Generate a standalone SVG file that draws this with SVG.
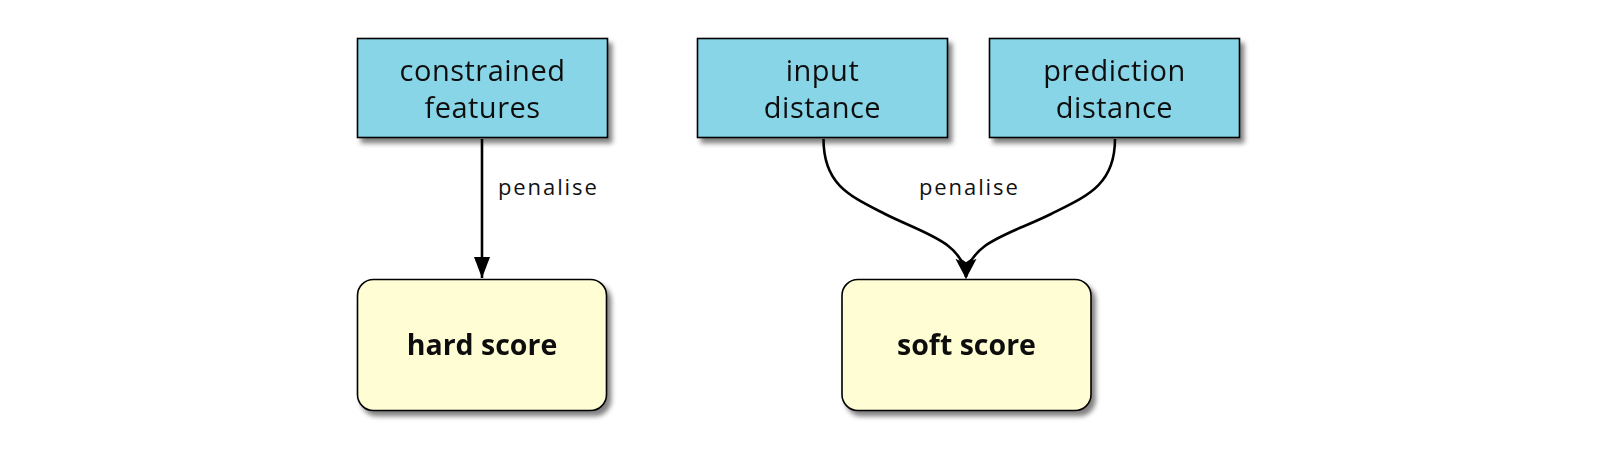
<svg xmlns="http://www.w3.org/2000/svg" width="1604" height="454" viewBox="0 0 1604 454">
<style>
.box{fill:#88d5e8;stroke:#000;stroke-width:1.6}
.score{fill:#fffdd3;stroke:#000;stroke-width:1.6}
.t{font-family:"Open Sans","Noto Sans",sans-serif;font-size:29px;letter-spacing:0.5px;fill:#111;text-anchor:middle}
.b{font-weight:bold;font-size:28.5px;letter-spacing:0}
.lbl{font-family:"Open Sans","Noto Sans",sans-serif;font-size:22px;letter-spacing:1.9px;fill:#111}
.edge{fill:none;stroke:#000;stroke-width:2.6}
</style>
<defs>
<filter id="sh" x="-10%" y="-10%" width="130%" height="140%">
<feGaussianBlur in="SourceAlpha" stdDeviation="2.5"/>
<feOffset dx="3.5" dy="4.5" result="o"/>
<feComponentTransfer><feFuncA type="linear" slope="0.5"/></feComponentTransfer>
<feMerge><feMergeNode/><feMergeNode in="SourceGraphic"/></feMerge>
</filter>
<marker id="tri" markerWidth="21" markerHeight="16" refX="21" refY="8" orient="auto" markerUnits="userSpaceOnUse" viewBox="0 0 21 16">
<path d="M0,0 L21,8 L0,16 Z" fill="#000"/>
</marker>
<marker id="stealth" markerWidth="21" markerHeight="18" refX="19" refY="9" orient="auto" markerUnits="userSpaceOnUse" viewBox="0 0 21 18">
<path d="M0,0 L21,9 L0,18 L5,9 Z" fill="#000"/>
</marker>
</defs>
<rect width="1604" height="454" fill="#fff"/>
<g id="edges">
<path class="edge" d="M482,139 L482,278" marker-end="url(#tri)"/>
<path class="edge" d="M823.5,139 C823.5,185 850,196 885,214 C925,234 963,242 966,277" marker-end="url(#stealth)"/>
<path class="edge" d="M1115,139 C1115,185 1087,196 1051,214 C1011,234 969,242 966,277" marker-end="url(#stealth)"/>
<text class="lbl" x="498" y="195">penalise</text>
<text class="lbl" x="919" y="195">penalise</text>
</g>
<g id="constrained-features" filter="url(#sh)">
<rect class="box" x="357.5" y="38.5" width="250" height="99"/>
<text class="t" x="482.5" y="81">constrained</text>
<text class="t" x="482.5" y="118">features</text>
</g>
<g id="input-distance" filter="url(#sh)">
<rect class="box" x="697.5" y="38.5" width="250" height="99"/>
<text class="t" x="822.5" y="81">input</text>
<text class="t" x="822.5" y="118">distance</text>
</g>
<g id="prediction-distance" filter="url(#sh)">
<rect class="box" x="989.5" y="38.5" width="250" height="99"/>
<text class="t" x="1114.5" y="81">prediction</text>
<text class="t" x="1114.5" y="118">distance</text>
</g>
<g id="hard-score" filter="url(#sh)">
<rect class="score" x="357.5" y="279.5" width="249" height="131" rx="16"/>
<text class="t b" x="482" y="355">hard score</text>
</g>
<g id="soft-score" filter="url(#sh)">
<rect class="score" x="842" y="279.5" width="249" height="131" rx="16"/>
<text class="t b" x="966.5" y="355">soft score</text>
</g>
</svg>
